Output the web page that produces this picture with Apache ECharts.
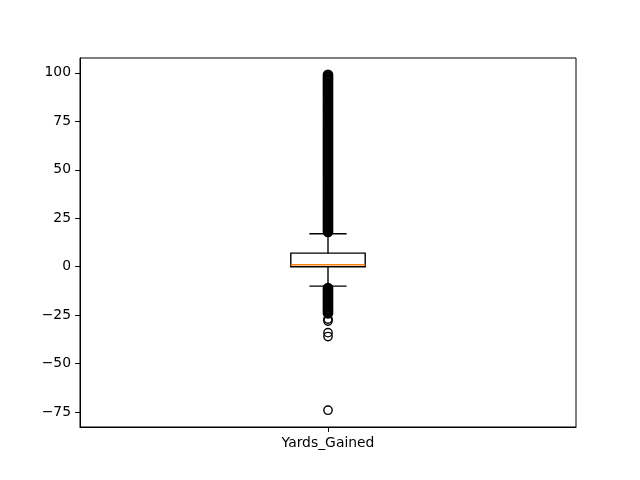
<!DOCTYPE html>
<html>
<head>
<meta charset="utf-8">
<script src="https://cdn.jsdelivr.net/npm/echarts@6/dist/echarts.min.js"></script>
<style>html,body{margin:0;padding:0;background:#fff;}#c{width:640px;height:480px;}</style>
</head>
<body>
<div id="c"></div>
<script>
var categories = ['Yards_Gained'];
// [lower whisker, Q1, median, Q3, upper whisker]
var boxStats = [-10, 0, 1, 7, 17];
// outlier values that occur many times (drawn as a dense, overlapping stack)
var outliersDenseHigh = [18,19,20,21,22,23,24,25,26,27,28,29,30,31,32,33,34,35,36,37,38,39,40,41,42,43,44,45,46,47,48,49,50,51,52,53,54,55,56,57,58,59,60,61,62,63,64,65,66,67,68,69,70,71,72,73,74,75,76,77,78,79,80,81,82,83,84,85,86,87,88,89,90,91,92,93,94,95,96,97,98,99];
var outliersDenseLow = [-11,-12,-13,-14,-15,-16,-17,-18,-19,-20,-21,-22,-23,-24];
// rare outlier values
var outliersSparse = [-27,-28,-34,-36,-74];
var yTicks = [-75, -50, -25, 0, 25, 50, 75, 100];
var yMin = -82.65, yMax = 107.65;

var FONT = 'DejaVu Sans';
var chart = echarts.init(document.getElementById('c'), null, {renderer: 'canvas'});

function toPts(arr) { return arr.map(function (v) { return [categories[0], v]; }); }

chart.setOption({
  animation: false,
  backgroundColor: '#fff',
  grid: {left: 80, right: 64, top: 58, bottom: 53, show: true, borderColor: '#000', borderWidth: 1, backgroundColor: 'transparent'},
  xAxis: {
    type: 'category',
    data: categories,
    boundaryGap: true,
    axisLine: {show: true, onZero: false, lineStyle: {color: '#000', width: 1}},
    axisTick: {show: true, alignWithLabel: true, length: 4.9, lineStyle: {color: '#000', width: 1}},
    axisLabel: {color: '#000', fontFamily: FONT, fontSize: 13.9, margin: 9},
    splitLine: {show: false}
  },
  yAxis: {
    type: 'value',
    min: yMin,
    max: yMax,
    axisLine: {show: true, onZero: false, lineStyle: {color: '#000', width: 1}},
    axisTick: {show: true, length: 4.9, customValues: yTicks, lineStyle: {color: '#000', width: 1}},
    axisLabel: {color: '#000', fontFamily: FONT, fontSize: 13.9, margin: 9, customValues: yTicks,
      formatter: function (v) { return String(v).replace('-', '\u2212'); }},
    splitLine: {show: false}
  },
  series: [
    {
      type: 'custom',
      data: [[0].concat(boxStats)],
      renderItem: function (params, api) {
        var xi = api.value(0);
        var band = api.size([1, 0])[0];
        var bw = band * 0.15;
        var cw = bw / 2;
        var cx = api.coord([xi, api.value(3)])[0];
        var yLo = api.coord([xi, api.value(1)])[1];
        var yQ1 = api.coord([xi, api.value(2)])[1];
        var yMed = api.coord([xi, api.value(3)])[1];
        var yQ3 = api.coord([xi, api.value(4)])[1];
        var yHi = api.coord([xi, api.value(5)])[1];
        var st = {stroke: '#000', lineWidth: 1.39, fill: null};
        return {
          type: 'group',
          children: [
            {type: 'line', shape: {x1: cx, y1: yQ3, x2: cx, y2: yHi}, style: st},
            {type: 'line', shape: {x1: cx, y1: yQ1, x2: cx, y2: yLo}, style: st},
            {type: 'line', shape: {x1: cx - cw / 2, y1: yHi, x2: cx + cw / 2, y2: yHi}, style: st},
            {type: 'line', shape: {x1: cx - cw / 2, y1: yLo, x2: cx + cw / 2, y2: yLo}, style: st},
            {type: 'rect', shape: {x: cx - bw / 2, y: yQ3, width: bw, height: yQ1 - yQ3}, style: {stroke: '#000', lineWidth: 1.39, fill: 'none'}},
            {type: 'line', shape: {x1: cx - bw / 2, y1: yMed, x2: cx + bw / 2, y2: yMed}, style: {stroke: '#ff7f0e', lineWidth: 1.39}}
          ]
        };
      },
      z: 2
    },
    {
      type: 'scatter',
      data: toPts(outliersDenseHigh.concat(outliersDenseLow)),
      symbol: 'circle',
      symbolSize: 8.33,
      itemStyle: {color: 'rgba(0,0,0,0)', borderColor: '#000', borderWidth: 2.4, opacity: 1},
      emphasis: {disabled: true},
      z: 3
    },
    {
      type: 'scatter',
      data: toPts(outliersSparse),
      symbol: 'circle',
      symbolSize: 8.33,
      itemStyle: {color: 'rgba(0,0,0,0)', borderColor: '#000', borderWidth: 1.39, opacity: 1},
      emphasis: {disabled: true},
      z: 3
    }
  ]
});
</script>
</body>
</html>
